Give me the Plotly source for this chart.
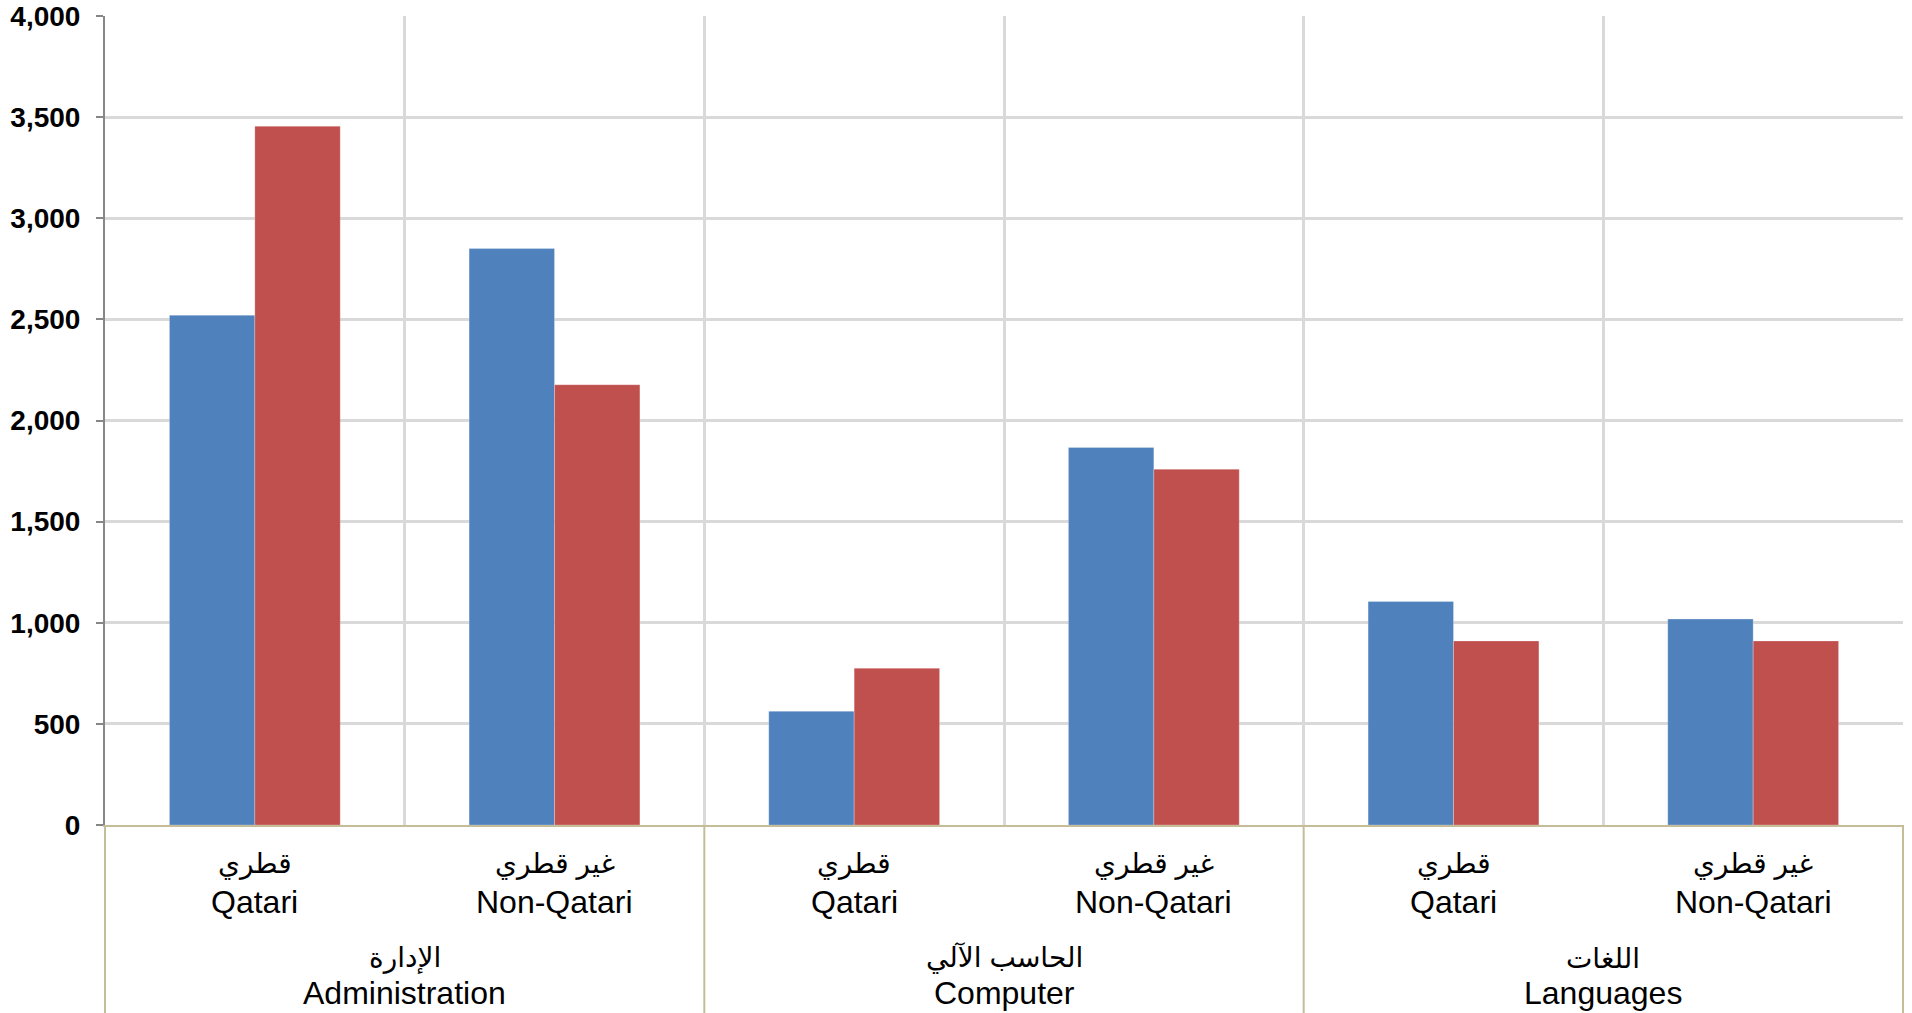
import plotly.graph_objects as go

# ---- data ----
groups_en = ["Administration", "Computer", "Languages"]
groups_ar = ["الإدارة", "الحاسب الآلي", "اللغات"]
sub_en = ["Qatari", "Non-Qatari"]
sub_ar = ["قطري", "غير قطري"]
series_blue = [2520, 2850, 562, 1867, 1105, 1018]
series_red = [3455, 2177, 775, 1759, 910, 910]
y_ticks = [0, 500, 1000, 1500, 2000, 2500, 3000, 3500, 4000]

BLUE = "#4F81BD"
RED = "#C0504D"
GRID = "#D9D9D9"
TAN = "#C4BD97"
AXIS_GRAY = "#868686"
FONT = "Liberation Sans, Arial, DejaVu Sans, sans-serif"
LABEL_SIZE = 32
ARABIC_SIZE = 28

n_sub = len(sub_en)
n_cat = len(groups_en) * n_sub
xs = list(range(n_cat))
boundaries = [i - 0.5 for i in range(n_cat + 1)]

fig = go.Figure()
fig.add_trace(go.Bar(x=xs, y=series_blue,
                     marker=dict(color=BLUE, line=dict(width=1, color="rgba(255,255,255,0.25)")),
                     name="Series 1", showlegend=False))
fig.add_trace(go.Bar(x=xs, y=series_red,
                     marker=dict(color=RED, line=dict(width=1, color="rgba(255,255,255,0.25)")),
                     name="Series 2", showlegend=False))

label_font = dict(family=FONT, size=LABEL_SIZE, color="black")
arabic_font = dict(family=FONT, size=ARABIC_SIZE, color="black")
annotations = []
for g in range(len(groups_en)):
    for s in range(n_sub):
        i = g * n_sub + s
        annotations.append(dict(x=i, y=0, xref="x", yref="paper", text=sub_ar[s],
                                showarrow=False, yanchor="middle", yshift=-39,
                                font=arabic_font))
        annotations.append(dict(x=i, y=0, xref="x", yref="paper", text=sub_en[s],
                                showarrow=False, yanchor="middle", yshift=-77,
                                font=label_font))
    center = g * n_sub + (n_sub - 1) / 2
    annotations.append(dict(x=center, y=0, xref="x", yref="paper", text=groups_ar[g],
                            showarrow=False, yanchor="middle", yshift=-133,
                            font=arabic_font))
    annotations.append(dict(x=center, y=0, xref="x", yref="paper", text=groups_en[g],
                            showarrow=False, yanchor="middle", yshift=-168,
                            font=label_font))

shapes = []
for g in range(len(groups_en) + 1):
    b = g * n_sub - 0.5
    px = (b + 0.5) / n_cat
    shapes.append(dict(type="line", xref="paper", yref="paper", x0=px, x1=px,
                       y0=0, y1=-0.3, line=dict(color=TAN, width=2), layer="above"))

fig.update_layout(
    width=1912, height=1013,
    margin=dict(l=105, r=9, t=16, b=188, autoexpand=False),
    paper_bgcolor="white", plot_bgcolor="white",
    barmode="group", bargap=0.43, bargroupgap=0,
    showlegend=False,
    annotations=annotations,
    shapes=shapes,
    xaxis=dict(range=[-0.5, n_cat - 0.5], tickmode="array", tickvals=boundaries,
               showticklabels=False, ticks="", showgrid=True, gridcolor=GRID, gridwidth=3,
               showline=True, linecolor=TAN, linewidth=2, zeroline=False, fixedrange=True,
               automargin=False),
    yaxis=dict(range=[0, 4000], tickmode="array", tickvals=y_ticks, tickformat=",",
               showgrid=True, gridcolor=GRID, gridwidth=3, zeroline=False,
               showline=True, linecolor=AXIS_GRAY, linewidth=2,
               ticks="outside", ticklen=7, tickcolor=AXIS_GRAY, tickwidth=2,
               ticklabelstandoff=10, automargin=False,
               tickfont=dict(family=FONT, size=28, color="black", weight="bold"),
               fixedrange=True),
)

fig.write_html("out.html",
               config={"displayModeBar": False},
               post_script="document.body.style.margin='0';document.body.style.overflow='hidden';")
